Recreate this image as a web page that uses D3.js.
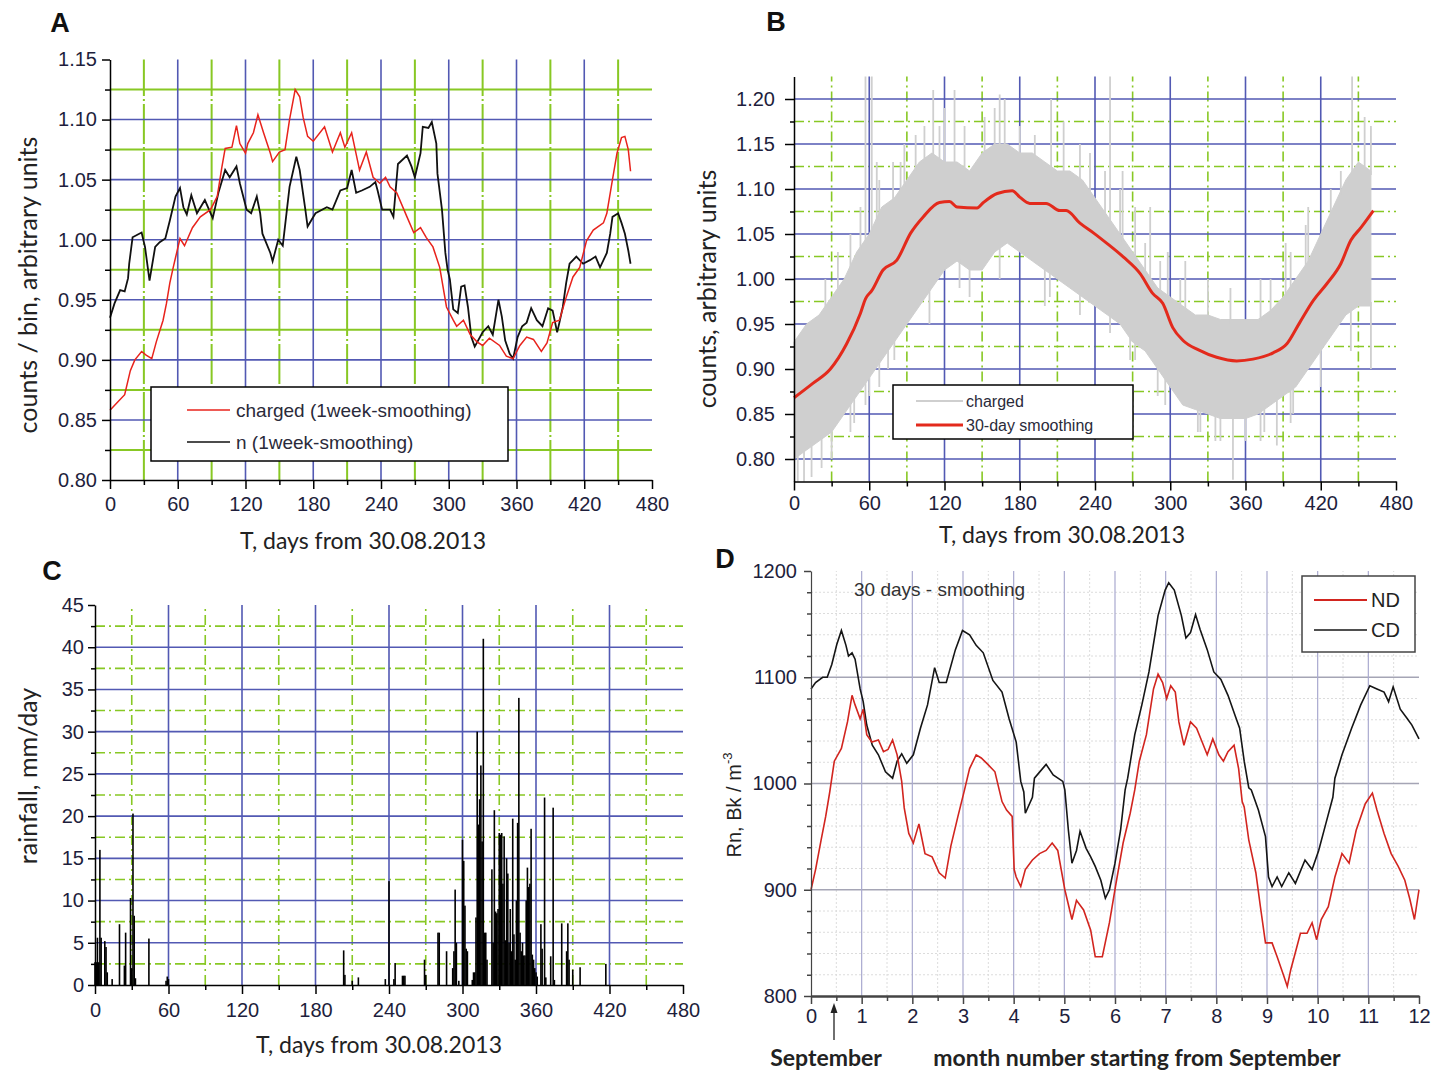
<!DOCTYPE html>
<html><head><meta charset="utf-8">
<script src="https://cdn.jsdelivr.net/npm/d3@7"></script>
<style>body{margin:0;background:#fff}svg{display:block}</style>
</head><body><svg id="c" width="1441" height="1071"></svg>
<script>
// ---------- DATA ----------
// Panel A: 1-week smoothed counts
const aRedDays = [0,6,13,18,22,28,32,37,41,47,50,53,56,58,62,66,73,80,89,95,99,102,108,112,115,120,122,127,131,136,142,144,150,155,159,164,168,171,175,180,190,197,204,208,214,221,227,233,239,244,248,254,263,269,275,280,286,292,298,304,307,313,319,325,330,336,345,351,357,363,369,375,382,387,392,398,404,410,416,422,428,437,440,445,449,453,456,459,461];
const aRedVals = [0.858,0.864,0.871,0.891,0.900,0.907,0.904,0.901,0.915,0.933,0.947,0.964,0.977,0.985,1.001,0.995,1.010,1.019,1.025,1.036,1.060,1.076,1.077,1.095,1.080,1.072,1.080,1.089,1.104,1.089,1.072,1.065,1.073,1.075,1.100,1.125,1.119,1.102,1.086,1.082,1.094,1.073,1.089,1.077,1.089,1.058,1.073,1.052,1.047,1.052,1.044,1.039,1.019,1.006,1.010,1.002,0.994,0.977,0.944,0.933,0.928,0.933,0.921,0.915,0.912,0.918,0.912,0.903,0.901,0.912,0.919,0.917,0.907,0.914,0.931,0.933,0.952,0.969,0.977,0.999,1.008,1.014,1.022,1.050,1.072,1.085,1.086,1.075,1.057];
const aBlackDays = [0,4,9,13,16,17,20,28,31,35,40,44,49,53,58,62,65,68,72,77,84,91,96,102,106,112,115,121,125,130,133,135,142,144,149,153,159,165,168,173,175,182,192,197,204,210,214,218,223,230,235,237,241,248,251,255,263,267,270,275,277,282,285,289,290,294,297,299,301,304,308,311,314,317,320,323,330,335,339,344,347,350,354,357,361,365,369,373,378,383,388,392,396,398,401,404,407,413,419,425,430,434,440,443,445,450,453,456,459,461];
const aBlackVals = [0.935,0.947,0.958,0.957,0.968,0.980,1.002,1.006,0.994,0.966,0.994,0.998,1.001,1.016,1.036,1.043,1.027,1.021,1.037,1.022,1.033,1.018,1.039,1.058,1.052,1.061,1.047,1.025,1.022,1.036,1.022,1.005,0.989,0.982,1.000,0.995,1.044,1.069,1.058,1.025,1.011,1.022,1.027,1.025,1.041,1.043,1.058,1.039,1.041,1.044,1.048,1.041,1.025,1.025,1.019,1.063,1.070,1.061,1.052,1.072,1.094,1.093,1.098,1.080,1.055,1.025,0.989,0.975,0.967,0.942,0.939,0.961,0.962,0.944,0.919,0.911,0.923,0.928,0.921,0.950,0.936,0.916,0.905,0.901,0.919,0.928,0.931,0.943,0.933,0.928,0.943,0.941,0.923,0.931,0.944,0.964,0.980,0.986,0.980,0.983,0.986,0.977,0.989,1.005,1.019,1.022,1.014,1.005,0.991,0.980];
const aLegend = ["charged (1week-smoothing)", "n (1week-smoothing)"];

// Panel B: raw charged band (envelope read every 10 days), spikes, 30-day smoothing
const bBandDays  = [0,10,20,30,40,50,60,70,80,90,100,110,120,130,140,150,160,170,180,190,200,210,220,230,240,250,260,270,280,290,300,310,320,330,340,350,360,370,380,390,400,410,420,430,440,450,460];
const bBandUpper = [0.93,0.95,0.96,0.98,1.00,1.03,1.05,1.08,1.09,1.11,1.13,1.14,1.13,1.13,1.12,1.14,1.15,1.15,1.14,1.14,1.13,1.12,1.12,1.11,1.09,1.07,1.05,1.03,1.01,0.99,0.98,0.97,0.96,0.96,0.955,0.955,0.955,0.955,0.965,0.98,1.00,1.02,1.05,1.08,1.11,1.13,1.12];
const bBandLower = [0.80,0.81,0.82,0.83,0.85,0.87,0.89,0.91,0.93,0.95,0.97,0.99,1.01,1.02,1.01,1.01,1.03,1.04,1.03,1.02,1.01,1.00,0.99,0.98,0.97,0.96,0.95,0.93,0.92,0.90,0.88,0.86,0.855,0.85,0.845,0.845,0.845,0.85,0.86,0.87,0.88,0.90,0.92,0.94,0.96,0.97,0.97];
const bSpikeHiDays = [25,35,45,53,57,62,66,68,79,85,88,97,104,111,116,120,128,136,152,160,164,168,180,192,205,215,228,236,248,252,260,262,272,280,284,292,298,308,312,330,348,372,380,392,396,408,410,428,436,445,455,460];
const bSpikeHiVals = [1.00,1.03,1.05,1.08,1.225,1.225,1.13,1.11,1.13,1.13,1.15,1.16,1.17,1.21,1.17,1.19,1.21,1.17,1.18,1.19,1.205,1.20,1.17,1.16,1.20,1.175,1.15,1.14,1.12,1.225,1.10,1.12,1.08,1.04,1.08,1.02,1.03,1.00,1.02,1.00,0.99,1.00,1.00,1.04,1.03,1.06,1.08,1.10,1.12,1.225,1.18,1.17];
const bSpikeLoDays = [3,8,14,22,30,45,48,57,60,68,75,80,108,132,140,164,200,204,228,252,268,272,290,296,322,324,336,340,350,360,372,375,385,396,398,420,444,460];
const bSpikeLoVals = [0.775,0.775,0.78,0.79,0.80,0.83,0.84,0.86,0.87,0.88,0.90,0.91,0.95,0.99,0.98,1.00,0.97,0.98,0.96,0.94,0.91,0.91,0.87,0.86,0.83,0.83,0.82,0.82,0.777,0.82,0.82,0.83,0.815,0.84,0.85,0.88,0.92,0.90];
const bRedDays = [0,15,29,42,53,57,62,71,82,93,103,116,124,130,146,151,162,174,180,188,201,212,217,228,239,250,263,276,286,294,302,310,323,337,353,366,382,393,403,414,425,436,444,452,462];
const bRedVals = [0.868,0.884,0.900,0.928,0.962,0.978,0.987,1.010,1.021,1.051,1.069,1.085,1.086,1.080,1.079,1.085,1.095,1.098,1.091,1.084,1.084,1.076,1.076,1.062,1.051,1.039,1.024,1.006,0.984,0.973,0.946,0.932,0.921,0.913,0.909,0.911,0.918,0.928,0.951,0.976,0.995,1.017,1.043,1.057,1.076];
const bLegend = ["charged", "30-day smoothing"];

// Panel C: rainfall mm/day
const rainDays = [0,1,2,3,4,5,8,9,10,14,20,24,25,29,30,31,32,33,44,58,59,60,203,204,210,215,237,240,244,245,251,252,253,269,270,280,281,287,292,293,294,295,297,300,301,302,303,304,308,309,310,311,312,313,314,315,316,317,318,319,320,324,325,326,327,328,329,330,331,332,333,334,335,336,337,338,339,340,341,342,343,344,345,346,347,348,349,350,351,352,353,354,355,356,357,358,359,360,361,364,365,367,368,372,374,375,381,385,386,387,390,396,417];
const rainMm   = [2.7,2.7,5.6,2.7,16,5.6,5.2,4.5,1.5,0.7,7.2,2.3,6.2,10.3,2.0,20.3,8.2,0.8,5.5,0.5,1.0,0.7,4.1,1.2,0.5,0.9,0.7,12.3,0.7,2.6,1.1,1.1,1.1,3.0,1.2,6.2,6.2,4.0,2.0,4.0,11.3,5.0,0.5,17.2,14.7,9.4,4.3,4.0,0.6,1.5,1.5,8,30,19,22,26,17,41,6.2,6.2,3,13.7,5,20.7,8.7,8.5,9,18,17.8,18,12,17.6,5.3,15,13.2,5,9,4,19.7,6,3,10,19.2,34,6.2,4,5,3.5,3.5,10,13.9,11.6,12,18.5,3.6,3,2,1.5,1.0,7.2,4.3,22.2,0.9,3.4,21,0.6,7.3,4,7.3,3,1.8,2.1,2.5];

// Panel D: Rn, 30 days smoothing
const dCDMonths = [0,0.09,0.23,0.32,0.41,0.51,0.6,0.69,0.74,0.81,0.87,0.97,1.03,1.1,1.21,1.33,1.47,1.61,1.7,1.79,1.89,2.02,2.16,2.3,2.44,2.53,2.67,2.85,2.99,3.13,3.26,3.4,3.59,3.77,3.91,4.05,4.14,4.2,4.23,4.37,4.41,4.64,4.78,4.97,5.01,5.08,5.15,5.24,5.31,5.43,5.52,5.61,5.72,5.81,5.89,6.0,6.11,6.2,6.25,6.39,6.53,6.67,6.85,6.99,7.06,7.17,7.31,7.4,7.49,7.59,7.68,7.82,7.95,8.09,8.23,8.37,8.46,8.55,8.64,8.69,8.83,8.97,9.03,9.1,9.2,9.29,9.43,9.56,9.75,9.89,10.02,10.16,10.3,10.34,10.48,10.67,10.85,11.03,11.17,11.31,11.4,11.49,11.63,11.77,11.86,12.0];
const dCDVals = [1089,1095,1100,1100,1112,1131,1144,1130,1120,1123,1117,1089,1077,1055,1036,1027,1011,1005,1021,1028,1019,1027,1052,1074,1109,1095,1095,1126,1144,1140,1130,1123,1097,1086,1061,1039,1002,992,972,987,1005,1018,1008,1002,994,956,925,937,955,939,931,922,909,892,900,925,956,994,1005,1046,1074,1105,1158,1182,1189,1182,1158,1137,1142,1159,1145,1126,1105,1098,1083,1064,1052,1021,996,994,975,950,912,903,912,903,916,906,928,919,937,962,987,1005,1027,1052,1074,1092,1089,1086,1077,1091,1070,1061,1055,1042];
const dNDMonths = [0,0.09,0.2,0.29,0.37,0.46,0.6,0.72,0.81,0.87,0.97,1.03,1.1,1.2,1.33,1.43,1.52,1.61,1.7,1.79,1.84,1.93,2.02,2.13,2.25,2.39,2.53,2.65,2.76,2.9,3.03,3.13,3.26,3.36,3.49,3.63,3.77,3.86,3.97,4.01,4.05,4.14,4.23,4.37,4.51,4.64,4.76,4.87,5.01,5.15,5.24,5.38,5.52,5.61,5.75,5.89,6.02,6.16,6.3,6.39,6.48,6.62,6.76,6.85,6.94,7.02,7.1,7.19,7.26,7.36,7.49,7.61,7.72,7.82,7.93,8.05,8.14,8.23,8.35,8.44,8.51,8.55,8.64,8.78,8.87,8.97,9.1,9.2,9.33,9.4,9.47,9.56,9.66,9.79,9.89,9.98,10.07,10.21,10.34,10.48,10.62,10.76,10.94,11.08,11.17,11.31,11.45,11.59,11.72,11.82,11.91,12.0];
const dNDVals = [900,919,947,969,992,1021,1033,1058,1083,1074,1061,1070,1046,1039,1041,1030,1032,1041,1027,1002,977,953,944,962,934,931,916,911,941,969,994,1014,1027,1024,1018,1011,983,975,969,919,912,903,919,928,934,937,944,937,900,872,890,881,862,837,837,869,906,944,972,994,1021,1046,1089,1103,1095,1080,1092,1086,1058,1036,1058,1052,1039,1027,1042,1027,1021,1030,1036,1014,983,978,947,916,884,850,850,837,819,809,825,841,859,859,869,853,872,884,912,934,925,956,981,991,975,953,934,922,909,891,872,900];
const dLegend = ["ND", "CD"];

// Tick values
const aYTicks = [0.80,0.85,0.90,0.95,1.00,1.05,1.10,1.15];
const bYTicks = [0.80,0.85,0.90,0.95,1.00,1.05,1.10,1.15,1.20];
const dayTicks = [0,60,120,180,240,300,360,420,480];
const cYTicks = [0,5,10,15,20,25,30,35,40,45];
const dYTicks = [800,900,1000,1100,1200];
const dXTicks = [0,1,2,3,4,5,6,7,8,9,10,11,12];

// ---------- DRAW ----------
const svg = d3.select("#c");
svg.append("rect").attr("width",1441).attr("height",1071).attr("fill","#fff");
const BLUE="#5259b3", GREEN="#88c824", TXT="#1e1e3c", GRAY="#cfcfcf";
const SANS="Liberation Sans, Arial, sans-serif", HUM="Lato, 'Open Sans', sans-serif";
const minorDays = [30,90,150,210,270,330,390,450];
const innerDays = [60,120,180,240,300,360,420];

function vLines(xs, ys, vals, color, w, dash){
  const [yb, yt] = ys.range();
  svg.append("g").selectAll("line").data(vals).join("line")
    .attr("x1",d=>xs(d)).attr("x2",d=>xs(d)).attr("y1",yb).attr("y2",yt)
    .attr("stroke",color).attr("stroke-width",w).attr("stroke-dasharray",dash||null);
}
function hLines(xs, ys, vals, color, w, dash){
  const [xl, xr] = xs.range();
  svg.append("g").selectAll("line").data(vals).join("line")
    .attr("y1",d=>ys(d)).attr("y2",d=>ys(d)).attr("x1",xl).attr("x2",xr)
    .attr("stroke",color).attr("stroke-width",w).attr("stroke-dasharray",dash||null);
}
function styleAx(sel, fs, col, w){
  sel.attr("font-size",fs).attr("font-family",SANS);
  sel.select(".domain").attr("stroke",col||"#000").attr("stroke-width",w||1.5);
  sel.selectAll(".tick line").attr("stroke",col||"#000").attr("stroke-width",1.5);
  sel.selectAll(".tick text").attr("fill",TXT);
}
function axes(xs, ys, o){
  const x0 = xs.range()[0], y0 = ys.range()[0];
  const yl = svg.append("g").attr("transform",`translate(${x0},0)`)
    .call(d3.axisLeft(ys).tickValues(o.yMaj).tickFormat(o.yFmt).tickSize(o.ytl).tickPadding(o.yPad).tickSizeOuter(0));
  styleAx(yl, o.fs, o.col, o.yw);
  const ym = svg.append("g").attr("transform",`translate(${x0},0)`)
    .call(d3.axisLeft(ys).tickValues(o.yMin).tickFormat("").tickSize(o.ytm).tickSizeOuter(0));
  ym.select(".domain").remove(); styleAx(ym, o.fs, o.col);
  const xb = svg.append("g").attr("transform",`translate(0,${y0})`)
    .call(d3.axisBottom(xs).tickValues(o.xMaj).tickFormat(o.xFmt).tickSize(o.xtl).tickPadding(o.xPad).tickSizeOuter(0));
  styleAx(xb, o.fs, o.col, o.xw);
  const xm = svg.append("g").attr("transform",`translate(0,${y0})`)
    .call(d3.axisBottom(xs).tickValues(o.xMin).tickFormat("").tickSize(o.xtm).tickSizeOuter(0));
  xm.select(".domain").remove(); styleAx(xm, o.fs, o.col);
}
function label(txt, x, y, opts){
  const t = svg.append("text").attr("x",x).attr("y",y).text(txt)
    .attr("font-family",opts.font||HUM).attr("font-size",opts.size||22)
    .attr("fill",opts.fill||"#222").attr("text-anchor",opts.anchor||"middle")
    .attr("font-weight",opts.weight||"normal");
  if(opts.rot) t.attr("x",null).attr("y",null).attr("transform",`translate(${x},${y}) rotate(-90)`);
  return t;
}

// ===== Panel A =====
const xA = d3.scaleLinear([0,480],[110,652]);
const yA = d3.scaleLinear([0.80,1.15],[480,59.5]);
hLines(xA, yA, [0.825,0.875,0.925,0.975,1.025,1.075,1.125], GREEN, 2);
vLines(xA, yA, minorDays, GREEN, 2, "40,3,2,3");
hLines(xA, yA, [0.85,0.90,0.95,1.00,1.05,1.10], BLUE, 1.6);
vLines(xA, yA, innerDays, BLUE, 1.6);
const lineA = d3.line().x(d=>xA(d[0])).y(d=>yA(d[1]));
svg.append("path").datum(d3.zip(aBlackDays,aBlackVals)).attr("d",lineA).attr("fill","none").attr("stroke","#111").attr("stroke-width",1.8);
svg.append("path").datum(d3.zip(aRedDays,aRedVals)).attr("d",lineA).attr("fill","none").attr("stroke","#e8231c").attr("stroke-width",1.5);
axes(xA, yA, {yMaj:aYTicks, yMin:[0.825,0.875,0.925,0.975,1.025,1.075,1.125], yFmt:d3.format(".2f"), ytl:8, ytm:5, yPad:5,
  xMaj:dayTicks, xMin:minorDays, xFmt:d3.format("d"), xtl:9, xtm:5, xPad:8, fs:20});
svg.append("rect").attr("x",151).attr("y",387).attr("width",357).attr("height",74).attr("fill","#fff").attr("stroke","#000").attr("stroke-width",1.5);
svg.append("line").attr("x1",187).attr("x2",230).attr("y1",410).attr("y2",410).attr("stroke","#e8231c").attr("stroke-width",1.5);
svg.append("line").attr("x1",187).attr("x2",230).attr("y1",442).attr("y2",442).attr("stroke","#111").attr("stroke-width",1.5);
label(aLegend[0],236,417,{font:SANS,size:19,anchor:"start",fill:"#2a2a3a"});
label(aLegend[1],236,449,{font:SANS,size:19,anchor:"start",fill:"#2a2a3a"});
label("counts / bin, arbitrary units",37,285,{rot:true,size:25});
label("T, days from 30.08.2013",363,549,{size:23});
label("A",60,32,{font:SANS,size:27,weight:"bold",fill:"#111"});

// ===== Panel B =====
const xB = d3.scaleLinear([0,480],[794,1396]);
const yB = d3.scaleLinear([0.775,1.225],[481.5,76.5]);
hLines(xB, yB, [0.825,0.875,0.925,0.975,1.025,1.075,1.125,1.175], GREEN, 1.6, "10,4,2,4");
vLines(xB, yB, minorDays, GREEN, 1.6, "10,4,2,4");
hLines(xB, yB, [0.80,0.85,0.90,0.95,1.00,1.05,1.10,1.15,1.20], BLUE, 1.6);
vLines(xB, yB, innerDays, BLUE, 1.6);
const bandB = d3.area().x(d=>xB(d[0])).y0(d=>yB(d[2])).y1(d=>yB(d[1]));
svg.append("path").datum(d3.zip(bBandDays,bBandUpper,bBandLower)).attr("d",bandB).attr("fill",GRAY).attr("stroke",GRAY).attr("stroke-width",1);
const upB = d3.scaleLinear(bBandDays,bBandUpper), loB = d3.scaleLinear(bBandDays,bBandLower);
svg.append("g").selectAll("line").data(d3.zip(bSpikeHiDays,bSpikeHiVals)).join("line")
  .attr("x1",d=>xB(d[0])).attr("x2",d=>xB(d[0])).attr("y1",d=>yB(upB(d[0]))+4).attr("y2",d=>yB(d[1]))
  .attr("stroke",GRAY).attr("stroke-width",1.8);
svg.append("g").selectAll("line").data(d3.zip(bSpikeLoDays,bSpikeLoVals)).join("line")
  .attr("x1",d=>xB(d[0])).attr("x2",d=>xB(d[0])).attr("y1",d=>yB(loB(d[0]))-4).attr("y2",d=>yB(d[1]))
  .attr("stroke",GRAY).attr("stroke-width",1.8);
svg.append("path").datum(d3.zip(bRedDays,bRedVals)).attr("d",d3.line().x(d=>xB(d[0])).y(d=>yB(d[1])).curve(d3.curveMonotoneX))
  .attr("fill","none").attr("stroke","#e32a1c").attr("stroke-width",3);
axes(xB, yB, {yMaj:bYTicks, yMin:[0.825,0.875,0.925,0.975,1.025,1.075,1.125,1.175], yFmt:d3.format(".2f"), ytl:9, ytm:4, yPad:10,
  xMaj:dayTicks, xMin:minorDays, xFmt:d3.format("d"), xtl:9, xtm:5, xPad:5, fs:20});
svg.append("rect").attr("x",893).attr("y",385).attr("width",240).attr("height",54).attr("fill","#fff").attr("stroke","#000").attr("stroke-width",1.5);
svg.append("line").attr("x1",916).attr("x2",963).attr("y1",401).attr("y2",401).attr("stroke",GRAY).attr("stroke-width",2);
svg.append("line").attr("x1",916).attr("x2",963).attr("y1",425).attr("y2",425).attr("stroke","#e32a1c").attr("stroke-width",3);
label(bLegend[0],966,407,{font:SANS,size:16,anchor:"start",fill:"#2a2a3a"});
label(bLegend[1],966,431,{font:SANS,size:16,anchor:"start",fill:"#2a2a3a"});
label("counts, arbitrary units",716,289,{rot:true,size:25});
label("T, days from 30.08.2013",1062,543,{size:23});
label("B",776,31,{font:SANS,size:27,weight:"bold",fill:"#111"});

// ===== Panel C =====
const xC = d3.scaleLinear([0,480],[95,683]);
const yC = d3.scaleLinear([0,45],[985,605]);
hLines(xC, yC, [2.5,7.5,12.5,17.5,22.5,27.5,32.5,37.5,42.5], GREEN, 1.6, "10,4,2,4");
vLines(xC, yC, minorDays, GREEN, 1.6, "10,4,2,4");
hLines(xC, yC, [5,10,15,20,25,30,35,40], BLUE, 1.6);
vLines(xC, yC, innerDays, BLUE, 1.6);
svg.append("g").selectAll("rect").data(d3.zip(rainDays,rainMm)).join("rect")
  .attr("x",d=>xC(d[0])-0.8).attr("width",1.6).attr("y",d=>yC(d[1])).attr("height",d=>yC(0)-yC(d[1])).attr("fill","#000");
axes(xC, yC, {yMaj:cYTicks, yMin:[2.5,7.5,12.5,17.5,22.5,27.5,32.5,37.5,42.5], yFmt:d3.format("d"), ytl:7, ytm:4, yPad:4,
  xMaj:dayTicks, xMin:minorDays, xFmt:d3.format("d"), xtl:9, xtm:5, xPad:9, fs:20});
label("rainfall, mm/day",37,776,{rot:true,size:25});
label("T, days from 30.08.2013",379,1053,{size:23});
label("C",52,580,{font:SANS,size:27,weight:"bold",fill:"#111"});

// ===== Panel D =====
const xD = d3.scaleLinear([0,12],[811,1419]);
const yD = d3.scaleLinear([800,1200],[996,571]);
const dMinorY = d3.range(820,1200,20).filter(v=>v%100!==0);
hLines(xD, yD, dMinorY, "#dcdcdc", 1, "2,2");
vLines(xD, yD, d3.range(0.5,12,1), "#dcdcdc", 1, "2,2");
hLines(xD, yD, [900,1000,1100], "#a5a5b5", 1.4);
vLines(xD, yD, [1,2,3,4,5,6,7,8,9,10,11], "#a9a9cf", 1.2);
const lineD = d3.line().x(d=>xD(d[0])).y(d=>yD(d[1]));
svg.append("path").datum(d3.zip(dCDMonths,dCDVals)).attr("d",lineD).attr("fill","none").attr("stroke","#151515").attr("stroke-width",1.6);
svg.append("path").datum(d3.zip(dNDMonths,dNDVals)).attr("d",lineD).attr("fill","none").attr("stroke","#d2251f").attr("stroke-width",1.6);
axes(xD, yD, {yMaj:dYTicks, yMin:dMinorY, yFmt:d3.format("d"), ytl:7, ytm:4, yPad:7,
  xMaj:dXTicks, xMin:d3.range(0.5,12,1), xFmt:d3.format("d"), xtl:8, xtm:5, xPad:5, fs:20, col:"#444", xw:2.5, yw:1.2});
svg.append("rect").attr("x",1302).attr("y",576).attr("width",113).attr("height",76).attr("fill","#fff").attr("stroke","#444").attr("stroke-width",1.5);
svg.append("line").attr("x1",1314).attr("x2",1367).attr("y1",600).attr("y2",600).attr("stroke","#d2251f").attr("stroke-width",2);
svg.append("line").attr("x1",1314).attr("x2",1367).attr("y1",630).attr("y2",630).attr("stroke","#151515").attr("stroke-width",1.6);
label(dLegend[0],1371,607,{font:SANS,size:20,anchor:"start",fill:"#222"});
label(dLegend[1],1371,637,{font:SANS,size:20,anchor:"start",fill:"#222"});
label("30 days - smoothing",854,596,{font:SANS,size:19,anchor:"start",fill:"#333"});
const yl = svg.append("text").attr("transform","translate(741,805) rotate(-90)").attr("text-anchor","middle")
  .attr("font-family",SANS).attr("font-size",20).attr("fill","#222");
yl.append("tspan").text("Rn, Bk / m");
yl.append("tspan").attr("dy",-9).attr("font-size",13).text("-3");
label("D",725,568,{font:SANS,size:27,weight:"bold",fill:"#111"});
svg.append("line").attr("x1",834).attr("x2",834).attr("y1",1040).attr("y2",1012).attr("stroke","#222").attr("stroke-width",1.3);
svg.append("path").attr("d","M830.5,1013 L834,1003 L837.5,1013 Z").attr("fill","#222");
label("September",826,1066,{size:23,weight:"bold",fill:"#222"});
label("month number starting from September",1137,1066,{size:23,weight:"bold",fill:"#222"});
</script></body></html>
